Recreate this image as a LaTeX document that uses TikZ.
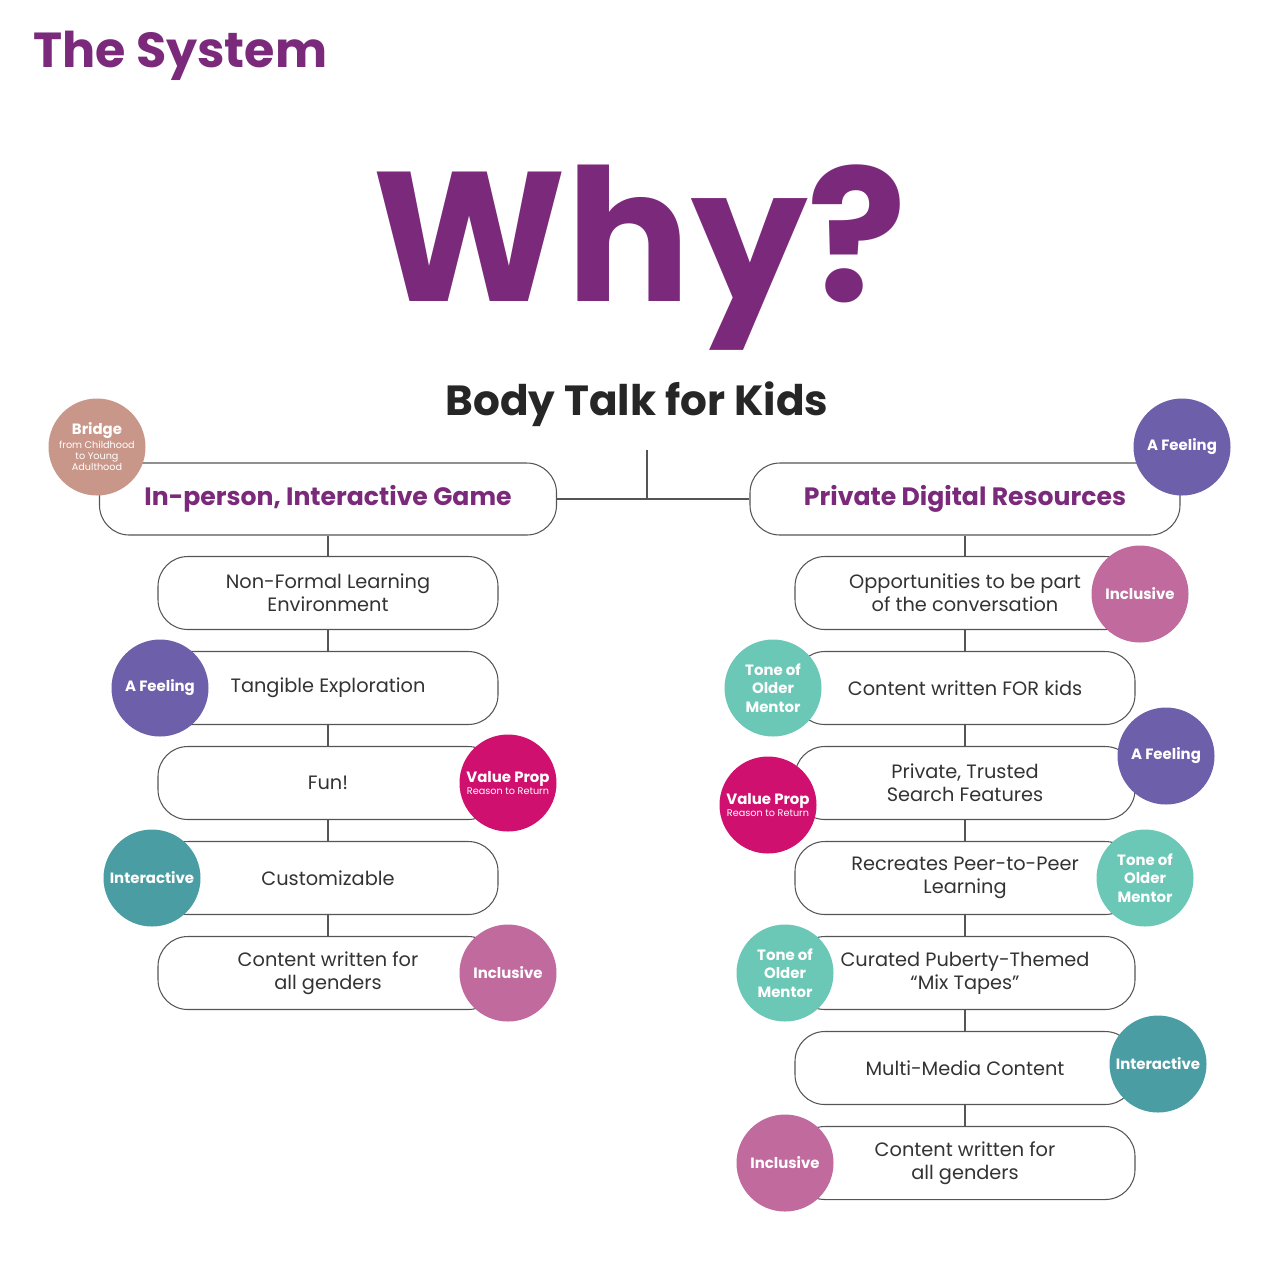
\documentclass[tikz,border=0pt]{standalone}
\usepackage{fontspec}
\setmainfont{Poppins}
\definecolor{ttl}{HTML}{7B2A7B}
\definecolor{bridge}{HTML}{C9978A}
\definecolor{feel}{HTML}{6E5FAA}
\definecolor{incl}{HTML}{C06A9E}
\definecolor{inter}{HTML}{4A9EA3}
\definecolor{tone}{HTML}{6CC8B6}
\definecolor{vprop}{HTML}{D0106E}
\definecolor{edge}{HTML}{555555}
\definecolor{txt}{HTML}{333333}
\newcommand{\smalltag}{\fontsize{5.5}{6.5}\selectfont\mdseries}
\tikzset{
 hdr/.style={draw=edge,line width=0.6pt,fill=white,rounded corners=17pt,minimum width=457*0.02cm,minimum height=72*0.02cm,font=\fontsize{14.3}{17}\selectfont\bfseries,text=ttl},
 box/.style={draw=edge,line width=0.6pt,fill=white,rounded corners=17pt,minimum width=340*0.02cm,minimum height=73*0.02cm,font=\fontsize{11}{13.2}\selectfont,text=txt,align=center},
 tag/.style={circle,fill=#1,minimum size=97*0.02cm,inner sep=0pt,text=white,align=center,font=\fontsize{8.5}{10.5}\selectfont\bfseries},
 conn/.style={draw=edge,line width=0.6pt}
}
\begin{document}
\begin{tikzpicture}[x=0.02cm,y=-0.02cm]
\useasboundingbox (0,0) rectangle (1280,1279);
\node[anchor=west,text=ttl,font=\fontsize{28}{32}\selectfont\bfseries] (title) at (27,56) {The System};
\node[text=ttl,font=\fontsize{105}{110}\selectfont\bfseries] (why) at (640,258) {Why?};
\node[text=black!85,font=\fontsize{24}{28}\selectfont\bfseries] (sub) at (637,404) {Body Talk for Kids};
\coordinate (top) at (647,450);
\coordinate (mid) at (647,498);
\node[hdr] (L) at (328,499) {In-person, Interactive Game};
\node[hdr,minimum width=430*0.02cm] (R) at (965,499) {Private Digital Resources};
\draw[conn] (top) -- (mid); \draw[conn] (L.east) -- (R.west);
% left
\node[box] (l1) at (328,593) {Non-Formal Learning\\Environment};
\node[box] (l2) at (328,688) {Tangible Exploration};
\node[box] (l3) at (328,783) {Fun!};
\node[box] (l4) at (328,878) {Customizable};
\node[box] (l5) at (328,973) {Content written for\\all genders};
\draw[conn] (L.south) -- (l1.north) (l1.south) -- (l2.north) (l2.south) -- (l3.north) (l3.south) -- (l4.north) (l4.south) -- (l5.north);
% right
\node[box] (r1) at (965,593) {Opportunities to be part\\of the conversation};
\node[box] (r2) at (965,688) {Content written FOR kids};
\node[box] (r3) at (965,783) {Private, Trusted\\Search Features};
\node[box] (r4) at (965,878) {Recreates Peer-to-Peer\\Learning};
\node[box] (r5) at (965,973) {Curated Puberty-Themed\\“Mix Tapes”};
\node[box] (r6) at (965,1068) {Multi-Media Content};
\node[box] (r7) at (965,1163) {Content written for\\all genders};
\draw[conn] (R.south) -- (r1.north) (r1.south) -- (r2.north) (r2.south) -- (r3.north) (r3.south) -- (r4.north) (r4.south) -- (r5.north) (r5.south) -- (r6.north) (r6.south) -- (r7.north);
% tags
\node[tag=bridge] (t1) at (97,447) {Bridge\\[-3pt]\smalltag from Childhood\\[-4pt]\smalltag to Young\\[-4pt]\smalltag Adulthood};
\node[tag=feel] (t2) at (160,688) {A Feeling};
\node[tag=vprop] (t3) at (508,783) {Value Prop\\[-4pt]\smalltag Reason to Return};
\node[tag=inter] (t4) at (152,878) {Interactive};
\node[tag=incl] (t5) at (508,973) {Inclusive};
\node[tag=feel] (t6) at (1182,447) {A Feeling};
\node[tag=incl] (t7) at (1140,594) {Inclusive};
\node[tag=tone] (t8) at (773,688) {Tone of\\Older\\Mentor};
\node[tag=feel] (t9) at (1166,756) {A Feeling};
\node[tag=vprop] (t10) at (768,805) {Value Prop\\[-4pt]\smalltag Reason to Return};
\node[tag=tone] (t11) at (1145,878) {Tone of\\Older\\Mentor};
\node[tag=tone] (t12) at (785,973) {Tone of\\Older\\Mentor};
\node[tag=inter] (t13) at (1158,1064) {Interactive};
\node[tag=incl] (t14) at (785,1163) {Inclusive};
\end{tikzpicture}
\end{document}
